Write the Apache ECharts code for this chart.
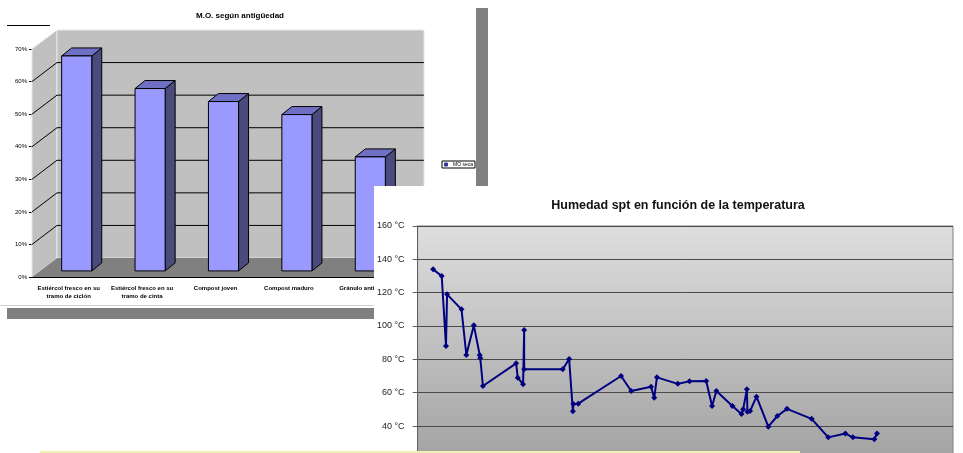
<!DOCTYPE html>
<html>
<head>
<meta charset="utf-8">
<script src="https://cdn.jsdelivr.net/npm/echarts@6/dist/echarts.min.js"></script>
<style>
  html, body { margin: 0; padding: 0; width: 963px; height: 453px; overflow: hidden; background: #fff; }
  #barChart { position: absolute; left: 0; top: 0; width: 476px; height: 305px; background: #fff; border-bottom: 1px solid #d0d0d0; }
  #lineChart { position: absolute; left: 374px; top: 186px; width: 589px; height: 330px; background: #fff; }
  .deco { position: absolute; }
</style>
</head>
<body>
<div class="deco" style="left:476px;top:8px;width:12px;height:180px;background:#808080"></div>
<div class="deco" style="left:7px;top:308px;width:370px;height:11px;background:#808080"></div>
<div id="barChart"></div>
<div class="deco" style="left:7px;top:25px;width:43px;height:1px;background:#000"></div>
<div id="lineChart"></div>
<div class="deco" style="left:40px;top:451px;width:760px;height:2px;background:#f0f0b0"></div>

<script>
// M.O. según antigüedad
const barCategories = [
    'Estiércol fresco en su\ntramo de ciclón',
    'Estiércol fresco en su\ntramo de cinta',
    'Compost joven',
    'Compost maduro',
    'Gránulo antiguo'
];
const barValues = [66, 56, 52, 48, 35];
const barSeriesName = 'MO seca';

// Humedad spt en función de la temperatura
const humX = [2.9, 4.5, 5.3, 5.5, 8.2, 9.1, 10.5, 11.6, 11.7, 12.2, 18.4, 18.7, 19.7, 19.9, 19.9,
    27.1, 28.3, 29.0, 29.1, 30.0, 38.0, 39.9, 43.6, 44.2, 44.7, 48.6, 50.8, 53.9, 55.0, 55.8,
    58.8, 60.5, 60.8, 61.5, 61.6, 62.1, 63.3, 65.5, 67.2, 69.0, 73.6, 76.7, 79.9, 81.3, 85.3, 85.8];
const humY = [134, 130, 88, 119, 110, 82.6, 100.4, 82.6, 80.8, 64, 77.6, 69, 65, 97.6, 74,
    74, 80.2, 48.8, 53.2, 53.4, 70, 61, 63.6, 57, 69.2, 65.3, 66.9, 67, 52, 61,
    52, 47.2, 50, 62, 48.6, 49, 57.6, 39.6, 46, 50.3, 44.3, 33.2, 35.5, 33.2, 32, 35.5];

const font = 'Liberation Sans, Arial, sans-serif';
const depth = [25, -19];     // wall depth offset
const barPos = 0.32;         // bars sit at this fraction of the depth
const barDepth = [10, -8];

let barChart = echarts.init(document.getElementById('barChart'));
barChart.setOption({
    animation: false,
    title: {
        text: 'M.O. según antigüedad',
        left: 235,
        top: 7,
        textAlign: 'center',
        textStyle: { fontFamily: font, fontSize: 8, fontWeight: 'bold', color: '#000' }
    },
    legend: {
        data: [barSeriesName],
        left: 442,
        top: 161,
        padding: [1, 2],
        itemWidth: 4,
        itemHeight: 4,
        itemGap: 2,
        borderColor: '#000',
        borderWidth: 1,
        backgroundColor: '#fff',
        textStyle: { fontFamily: font, fontSize: 5, color: '#000' }
    },
    grid: { left: 32, top: 49, width: 367, height: 228 },
    xAxis: {
        type: 'category',
        data: barCategories,
        axisLine: { lineStyle: { color: '#000', width: 1 } },
        axisTick: { length: 3, lineStyle: { color: '#000' } },
        axisLabel: {
            interval: 0,
            margin: 7,
            fontFamily: font,
            fontSize: 6,
            fontWeight: 'bold',
            lineHeight: 8,
            color: '#000'
        }
    },
    yAxis: {
        type: 'value',
        min: 0,
        max: 70,
        interval: 10,
        splitLine: { show: false },
        axisLine: { show: true, lineStyle: { color: '#000' } },
        axisTick: { show: true, length: 3, lineStyle: { color: '#000' } },
        axisLabel: {
            margin: 5,
            fontFamily: font,
            fontSize: 6,
            color: '#000',
            formatter(val) { return val + '%'; }
        }
    },
    series: [
        {
            type: 'custom',
            silent: true,
            z: 1,
            data: [[0, 0]],
            renderItem(params, api) {
                const cs = params.coordSys;
                const x0 = cs.x, y0 = cs.y, w = cs.width, h = cs.height;
                const [dx, dy] = depth;
                const children = [
                    { type: 'polygon', shape: { points: [[x0, y0 + h], [x0, y0], [x0 + dx, y0 + dy], [x0 + dx, y0 + h + dy]] },
                      style: { fill: '#c0c0c0', stroke: '#e8e8e8', lineWidth: 1 } },
                    { type: 'rect', shape: { x: x0 + dx, y: y0 + dy, width: w, height: h },
                      style: { fill: '#c0c0c0', stroke: '#e8e8e8', lineWidth: 1 } },
                    { type: 'polygon', shape: { points: [[x0, y0 + h], [x0 + w, y0 + h], [x0 + w + dx, y0 + h + dy], [x0 + dx, y0 + h + dy]] },
                      style: { fill: '#808080' } }
                ];
                for (let v = 10; v < 70; v += 10) {
                    const y = api.coord([0, v])[1];
                    children.push({ type: 'line', shape: { x1: x0, y1: y, x2: x0 + dx, y2: y + dy }, style: { stroke: '#000', lineWidth: 1 } });
                    children.push({ type: 'line', shape: { x1: x0 + dx, y1: y + dy, x2: x0 + dx + w, y2: y + dy }, style: { stroke: '#000', lineWidth: 1 } });
                }
                return { type: 'group', children };
            }
        },
        {
            name: barSeriesName,
            type: 'custom',
            z: 2,
            itemStyle: { color: '#333399' },
            data: barValues.map((v, i) => [i, v]),
            renderItem(params, api) {
                const idx = api.value(0);
                const top = api.coord([idx, api.value(1)]);
                const base = api.coord([idx, 0]);
                const bw = api.size([1, 0])[0] * 0.41;
                const fx = depth[0] * barPos, fy = depth[1] * barPos;
                const l = top[0] - bw / 2 + fx, r = l + bw;
                const yt = top[1] + fy, yb = base[1] + fy;
                const [dx, dy] = barDepth;
                const stroke = { stroke: '#000', lineWidth: 1 };
                return {
                    type: 'group',
                    children: [
                        { type: 'polygon', shape: { points: [[r, yt], [r + dx, yt + dy], [r + dx, yb + dy], [r, yb]] },
                          style: Object.assign({ fill: '#4a4a7c' }, stroke) },
                        { type: 'polygon', shape: { points: [[l, yt], [r, yt], [r + dx, yt + dy], [l + dx, yt + dy]] },
                          style: Object.assign({ fill: '#6f6fc4' }, stroke) },
                        { type: 'rect', shape: { x: l, y: yt, width: bw, height: yb - yt },
                          style: Object.assign({ fill: '#9999ff' }, stroke) }
                    ]
                };
            }
        }
    ]
});

let lineChart = echarts.init(document.getElementById('lineChart'));
lineChart.setOption({
    animation: false,
    title: {
        text: 'Humedad spt en función de la temperatura',
        left: 299,
        top: 8,
        textAlign: 'center',
        textStyle: { fontFamily: font, fontSize: 12.5, fontWeight: 'bold', color: '#111' }
    },
    grid: {
        left: 43,
        top: 40,
        width: 536,
        height: 266.7,
        show: true,
        borderColor: '#808080',
        borderWidth: 1,
        backgroundColor: new echarts.graphic.LinearGradient(0, 0, 0, 1, [
            { offset: 0, color: '#dedede' },
            { offset: 1, color: '#9a9a9a' }
        ])
    },
    xAxis: {
        type: 'value',
        min: 0,
        max: 100,
        show: false
    },
    yAxis: {
        type: 'value',
        min: 0,
        max: 160,
        interval: 20,
        axisLine: { show: true, lineStyle: { color: '#606060', width: 1 } },
        axisTick: { show: true, length: 5, lineStyle: { color: '#606060' } },
        splitLine: { lineStyle: { color: '#4a4a4a', width: 1 } },
        axisLabel: {
            margin: 13,
            fontFamily: font,
            fontSize: 9,
            color: '#222',
            formatter(val) { return val + ' °C'; }
        }
    },
    series: [
        {
            type: 'line',
            data: humX.map((x, i) => [x, humY[i]]),
            symbol: 'diamond',
            symbolSize: 6,
            itemStyle: { color: '#000080' },
            lineStyle: { color: '#000080', width: 2 }
        }
    ]
});
</script>
</body>
</html>
